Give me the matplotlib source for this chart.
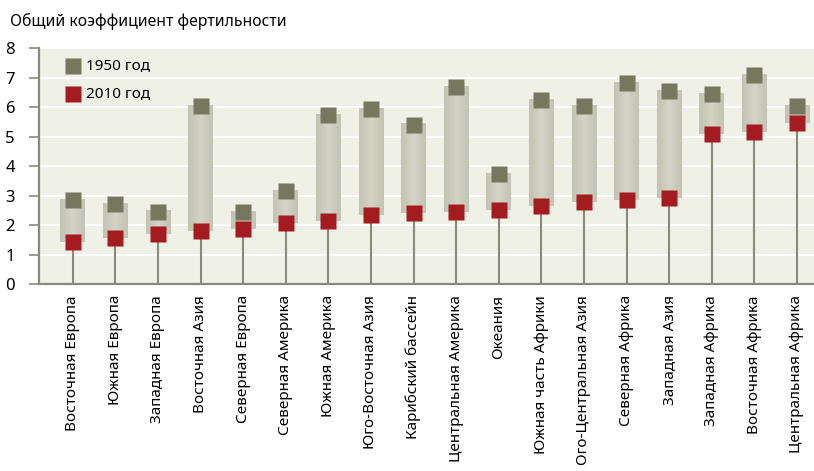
import numpy as np
import matplotlib.pyplot as plt
from matplotlib.colors import LinearSegmentedColormap

# Regions and total fertility rate values
regions = ['Восточная Европа', 'Южная Европа', 'Западная Европа', 'Восточная Азия',
           'Северная Европа', 'Северная Америка', 'Южная Америка', 'Юго-Восточная Азия',
           'Карибский бассейн', 'Центральная Америка', 'Океания', 'Южная часть Африки',
           'Ого-Центральная Азия', 'Северная Африка', 'Западная Азия', 'Западная Африка',
           'Восточная Африка', 'Центральная Африка']
tfr_1950 = [2.85, 2.71, 2.45, 6.03, 2.44, 3.15, 5.73, 5.94, 5.40,
            6.68, 3.73, 6.24, 6.04, 6.82, 6.55, 6.45, 7.09, 6.03]
tfr_2010 = [1.43, 1.57, 1.70, 1.80, 1.87, 2.07, 2.14, 2.35, 2.41,
            2.45, 2.52, 2.65, 2.79, 2.85, 2.92, 5.09, 5.16, 5.46]
y_ticks = [0, 1, 2, 3, 4, 5, 6, 7, 8]

bg = '#eff0e6'
axis_col = '#8a8a78'
col_1950 = '#77765f'
col_2010 = '#a51c20'
font = ['Noto Sans', 'DejaVu Sans']

fig = plt.figure(figsize=(8.14, 4.71), dpi=100)
ax = fig.add_axes([0.0475, 0.397, 0.9525, 0.501])
ax.set_facecolor(bg)

x = np.arange(len(regions))
ax.set_xlim(-0.8, 17.4)
ax.set_ylim(0, 8)

# white gridlines
for t in y_ticks[1:]:
    ax.axhline(t, color='white', lw=1.5, zorder=1)

# gradient range bars
grad_cmap = LinearSegmentedColormap.from_list('g', ['#c3c3b4', '#d4d4c6', '#c3c3b4'])
grad = np.linspace(0, 1, 64).reshape(1, -1)
bw = 0.29
for xi, hi, lo in zip(x, tfr_1950, tfr_2010):
    ax.imshow(grad, cmap=grad_cmap, aspect='auto', zorder=2,
              extent=[xi - bw, xi + bw, lo, hi + 0.03])

# stems from zero to the 2010 value
ax.vlines(x, 0, tfr_2010, color=axis_col, lw=1.5, zorder=3)

ax.plot(x, tfr_1950, 's', ms=11.3, color=col_1950, mec='none', zorder=4)
ax.plot(x, tfr_2010, 's', ms=11.3, color=col_2010, mec='none', zorder=4)

# legend drawn by hand like the original
ax.plot([0.0], [7.4], 's', ms=11.3, color=col_1950, mec='none', zorder=5)
ax.plot([0.0], [6.45], 's', ms=11.3, color=col_2010, mec='none', zorder=5)
ax.text(0.31, 7.4, '1950 год', fontsize=11, family=font, va='center', zorder=5)
ax.text(0.31, 6.45, '2010 год', fontsize=11, family=font, va='center', zorder=5)

ax.set_yticks(y_ticks)
ax.set_yticklabels([str(t) for t in y_ticks], family=font, fontsize=12)
ax.tick_params(axis='y', length=7, width=1.2, color=axis_col, pad=10)
ax.set_xticks(x)
ax.set_xticklabels(regions, rotation=90, family=font, fontsize=11)
ax.tick_params(axis='x', length=0, pad=8)

for s in ['top', 'right']:
    ax.spines[s].set_visible(False)
for s in ['left', 'bottom']:
    ax.spines[s].set_color(axis_col)
    ax.spines[s].set_linewidth(1.6)

fig.text(0.012, 0.955, 'Общий коэффициент фертильности', family=font,
         fontsize=11.3, va='center')

fig.savefig('out.png', dpi=100)
